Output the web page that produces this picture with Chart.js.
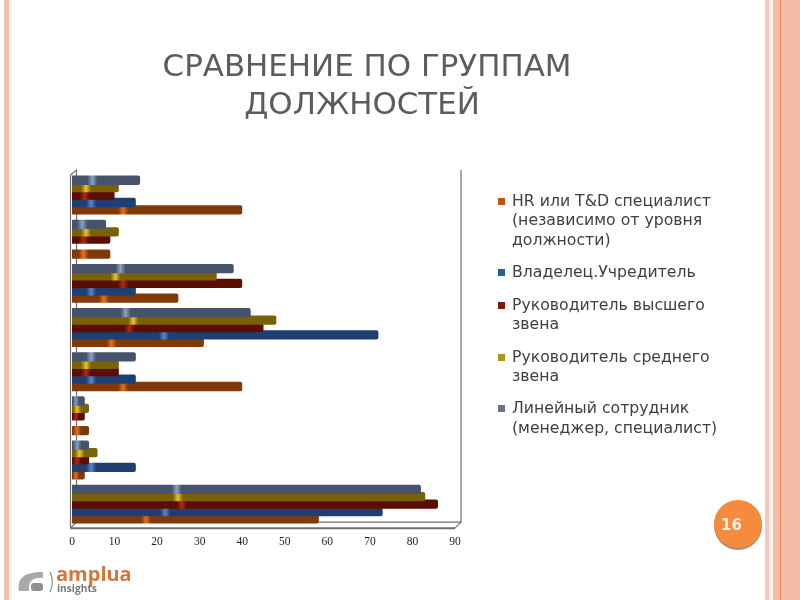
<!DOCTYPE html>
<html><head><meta charset="utf-8">
<script src="https://cdn.jsdelivr.net/npm/chart.js@4"></script>
<style>
html,body{margin:0;padding:0;background:#fff;width:800px;height:600px;overflow:hidden;font-family:"DejaVu Sans",sans-serif}
.s{position:absolute;top:0;height:600px}
#c{position:absolute;left:0;top:0;width:800px;height:600px}
.t{position:absolute;left:67px;width:600px;text-align:center;color:#5c5c5c;font-size:30.9px;line-height:38px;white-space:nowrap}
.l{position:absolute;left:512px;color:#404040;font-size:15.7px;line-height:20px;white-space:nowrap;transform:translateY(-10px)}
.k{position:absolute;left:498px;width:7px;height:7px}
#badge{position:absolute;left:714px;top:500px;width:48px;height:48px;border-radius:50%;background:#f68b3d;box-shadow:0 2px 0 #b08d75;color:#fff2e6;font:bold 15px "DejaVu Sans",sans-serif;line-height:50px;text-indent:7px}
.a{position:absolute;left:56px;top:561px;color:#d2773a;font:bold 20px "Open Sans",sans-serif;line-height:26px}
.i{position:absolute;left:57px;top:581px;color:#777;font:bold 10.2px "Open Sans",sans-serif;line-height:14px}
</style></head><body>
<div class="s" style="left:4px;width:5px;background:#f5bdb0"></div>
<div class="s" style="left:9px;width:4px;background:#fffbee"></div>
<div class="s" style="left:765px;width:4px;background:#f5c8ba"></div>
<div class="s" style="left:769px;width:4px;background:#fff8f0"></div>
<div class="s" style="left:773px;width:27px;background:#f5bba8"></div>
<div class="s" style="left:780px;width:1px;background:#e8835a"></div>
<canvas id="c" width="800" height="600"></canvas>
<div class="t" style="top:46px">СРАВНЕНИЕ ПО ГРУППАМ</div>
<div class="t" style="top:84px;left:62px">ДОЛЖНОСТЕЙ</div>
<div id="legend"></div>
<div id="badge">16</div>
<svg style="position:absolute;left:16px;top:568px" width="38" height="28" viewBox="0 0 38 28">
<path d="M3 23 C1 10 8 4 27 4 L27 10 C16 9 12 14 13 23 Z" fill="#a9a9a9"/>
<rect x="15" y="15" width="12" height="8" rx="3" fill="#8f8f8f"/>
<path d="M34 4 C37 10 37 18 34 24" fill="none" stroke="#8f8f8f" stroke-width="1.4"/>
</svg>
<div class="a">amplua</div>
<div class="i">insights</div>
<script>
const categories = ["", "", "", "", "", "", "", ""];
const seriesNames = ["Линейный сотрудник (менеджер, специалист)", "Руководитель среднего звена", "Руководитель высшего звена", "Владелец.Учредитель", "HR или T&D специалист (независимо от уровня должности)"];
const linear   = [82, 4, 3, 15, 42, 38, 8, 16];
const middle   = [83, 6, 4, 11, 48, 34, 11, 11];
const top_     = [86, 4, 3, 11, 45, 40, 9, 10];
const owner    = [73, 15, null, 15, 72, 15, null, 15];
const hr       = [58, 3, 4, 40, 31, 25, 9, 40];
const baseColors = ["#47536b", "#7a6006", "#5a0d00", "#1f3f72", "#7f3a08"];
const hiColors   = ["#8aa0c4", "#ecc22e", "#b02c10", "#5b85c8", "#e8701c"];
const xTicks = [0,10,20,30,40,50,60,70,80,90];
const legendLines = [
 [["HR или T&D специалист",201],["(независимо от уровня",220],["должности)",240]],
 [["Владелец.Учредитель",272]],
 [["Руководитель высшего",305],["звена",324]],
 [["Руководитель среднего",357],["звена",376]],
 [["Линейный сотрудник",408],["(менеджер, специалист)",428]]
];
const legendSwatches = ["#b8561a","#2f5a9a","#7a1a0a","#b0941a","#6a7290"];

const lg = document.getElementById('legend');
legendLines.forEach((g,i)=>{
  g.forEach(([txt,y],j)=>{
    const d=document.createElement('div');d.className='l';d.style.top=y+'px';d.textContent=txt;lg.appendChild(d);
    if(j===0){const k=document.createElement('div');k.className='k';k.style.top=(y-3)+'px';k.style.background=legendSwatches[i];lg.appendChild(k);}
  });
});

function fill(i){
  return (ctx)=>{
    const chart=ctx.chart, s=chart.scales.x;
    if(!s||ctx.raw==null||ctx.type!=='data') return baseColors[i];
    const x0=s.getPixelForValue(0), x1=s.getPixelForValue(ctx.raw), len=x1-x0;
    if(!isFinite(x0)||!isFinite(x1)||len<=0) return baseColors[i];
    const h=Math.min(0.24,5/len), c=0.3;
    const g=chart.ctx.createLinearGradient(x0,0,x1,0);
    g.addColorStop(0,baseColors[i]);
    g.addColorStop(Math.max(0,c-h),baseColors[i]);
    g.addColorStop(c,hiColors[i]);
    g.addColorStop(c+h,baseColors[i]);
    g.addColorStop(1,baseColors[i]);
    return g;
  };
}
const frame={id:'frame',beforeDatasetsDraw(ch){
  const a=ch.chartArea,c=ch.ctx,dx=6,dy=6;
  const L=a.left-1.5,R=a.right,T=a.top,B=a.bottom+2;
  c.save();c.strokeStyle='#6e6e6e';c.lineWidth=1.2;
  c.beginPath();
  c.moveTo(L,B);c.lineTo(L,T+2);c.lineTo(L+dx,T-3);c.lineTo(L+dx,B-dy);c.lineTo(R+dx,B-dy);c.lineTo(R+dx,T-3);
  c.moveTo(L+dx,B-dy);c.lineTo(L,B);
  c.moveTo(R+dx,B-dy);c.lineTo(R,B);
  c.stroke();
  c.lineWidth=2;c.beginPath();c.moveTo(L,B);c.lineTo(R,B);c.stroke();
  c.restore();
}};
const vals=[linear,middle,top_,owner,hr];
new Chart(document.getElementById('c'),{
  type:'bar',
  data:{labels:categories,datasets:vals.map((v,i)=>({label:seriesNames[i],data:v,backgroundColor:fill(i),borderWidth:0,borderRadius:{topRight:2,bottomRight:2},borderSkipped:false,categoryPercentage:0.84,barPercentage:1.25}))},
  options:{
    indexAxis:'y',responsive:false,animation:false,devicePixelRatio:1,
    layout:{padding:{left:64,right:345,top:173,bottom:50}},
    plugins:{legend:{display:false},title:{display:false},tooltip:{enabled:false}},
    scales:{
      x:{min:0,max:90,afterBuildTicks(ax){ax.ticks=xTicks.map(v=>({value:v}));},grid:{display:false},border:{display:false},
         ticks:{color:'#222',font:{family:'"Liberation Serif"',size:11.5},padding:1,maxRotation:0,autoSkip:false}},
      y:{reverse:true,grid:{display:false},border:{display:false},ticks:{display:false}}
    }
  },
  plugins:[frame]
});
</script>
</body></html>
